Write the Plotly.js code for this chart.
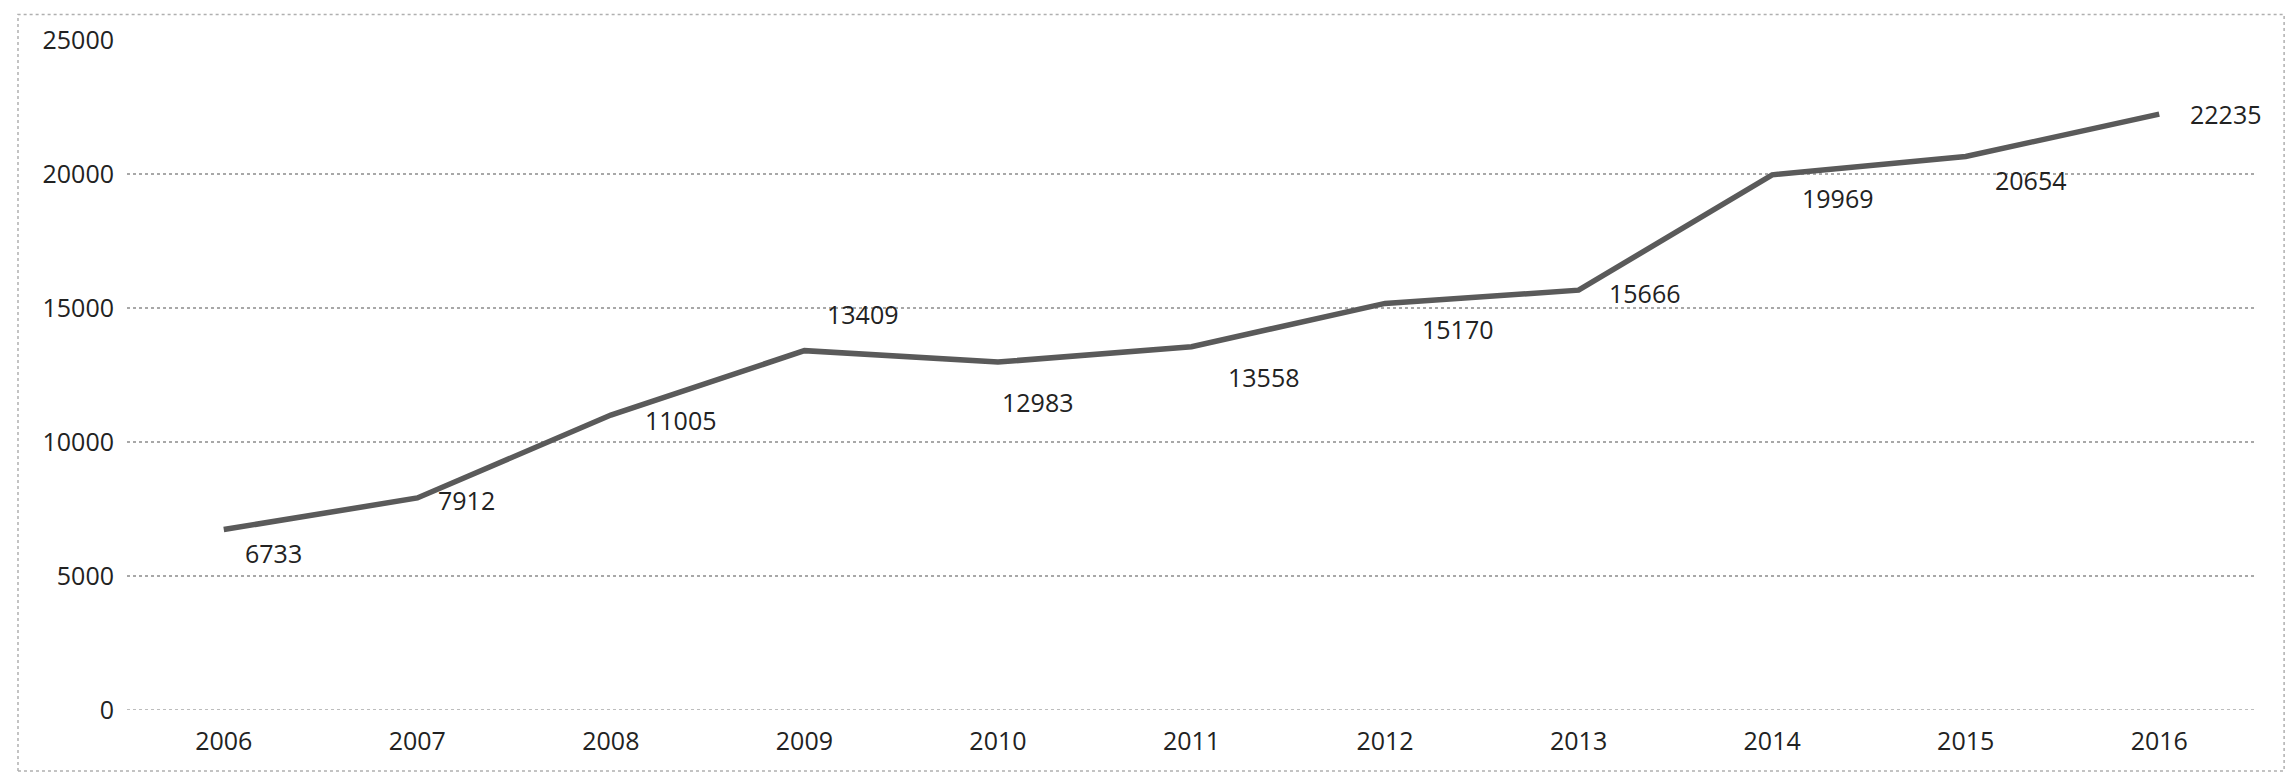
<!DOCTYPE html>
<html>
<head>
<meta charset="utf-8">
<script src="https://cdn.plot.ly/plotly-3.0.1.min.js"></script>
<style>html,body{margin:0;padding:0;background:#fff;}#chart{width:2295px;height:779px;}</style>
</head>
<body>
<div id="chart"></div>
<script>
const years = ['2006','2007','2008','2009','2010','2011','2012','2013','2014','2015','2016'];
const values = [6733, 7912, 11005, 13409, 12983, 13558, 15170, 15666, 19969, 20654, 22235];
const yTicks = [0, 5000, 10000, 15000, 20000, 25000];

// label offsets (pixels) relative to each point
const labelDx = [50, 49, 70, 58, 40, 72, 72, 66, 65, 65, 66];
const labelDy = [-23, -2, -5, 37, -40, -30, -26, -3, -23, -24, 0];

const font = {family: 'Open Sans, Liberation Sans, sans-serif', size: 25, color: '#222'};

const annotations = years.map((yr, i) => ({
  x: i, y: values[i], xref: 'x', yref: 'y',
  text: String(values[i]), showarrow: false,
  xshift: labelDx[i], yshift: labelDy[i], font: font
}));

const trace = {
  x: years, y: values, type: 'scatter', mode: 'lines',
  line: {color: '#5a5a5a', width: 5.5},
  hoverinfo: 'skip'
};

const layout = {
  width: 2295, height: 779,
  margin: {l: 127, r: 39, t: 40, b: 69},
  paper_bgcolor: '#fff', plot_bgcolor: '#fff',
  showlegend: false,
  font: font,
  xaxis: {
    type: 'category', categoryarray: years, categoryorder: 'array',
    range: [-0.5, years.length - 0.5], autorange: false,
    showgrid: false, zeroline: false, showline: false,
    ticks: '', ticklabelstandoff: 14, tickfont: font
  },
  yaxis: {
    range: [0, 25000], autorange: false, tickvals: yTicks, ticktext: yTicks.map(String),
    showgrid: true, gridcolor: '#a8a8a8', gridwidth: 1.5, griddash: 'dot',
    zeroline: false, showline: false, ticks: '', ticklabelstandoff: 12, tickfont: font
  },
  annotations: annotations,
  shapes: [{
    type: 'rect', xref: 'paper', yref: 'paper',
    x0: -0.0512, x1: 1.0132, y0: -0.091, y1: 1.038,
    line: {color: '#b0b0b0', width: 1.5, dash: 'dot'}, fillcolor: 'rgba(0,0,0,0)'
  }, {
    type: 'line', xref: 'paper', yref: 'y', x0: 0, x1: 1, y0: 0, y1: 0,
    line: {color: '#a8a8a8', width: 1.5, dash: 'dot'}, layer: 'below'
  }]
};

Plotly.newPlot('chart', [trace], layout, {displayModeBar: false, staticPlot: true});
</script>
</body>
</html>
